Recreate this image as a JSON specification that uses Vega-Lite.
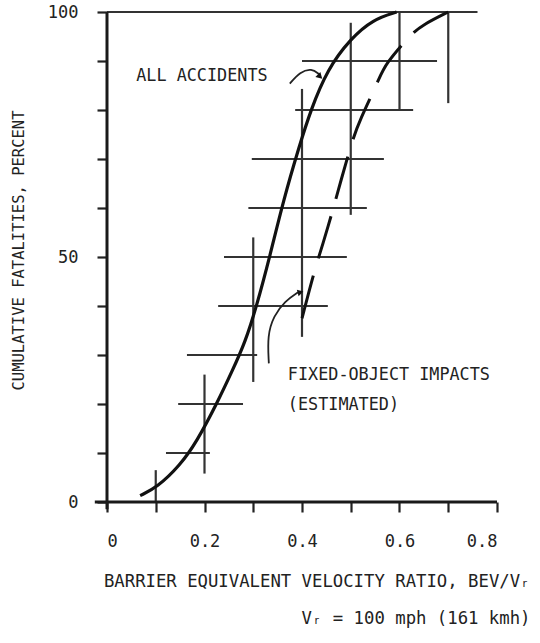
{
  "$schema": "https://vega.github.io/schema/vega-lite/v6.json",
  "autosize": {"type": "none"},
  "padding": {"left": 107, "top": 12, "right": 43, "bottom": 141},
  "width": 390,
  "height": 490,
  "background": "white",
  "config": {
    "font": "DejaVu Sans Mono",
    "view": {"stroke": null},
    "axis": {"grid": false, "domain": false, "tickColor": "#222", "tickWidth": 2.2, "labelColor": "#222", "titleColor": "#222", "labelFont": "DejaVu Sans Mono", "titleFont": "DejaVu Sans Mono", "titleFontWeight": "normal"}
  },
  "datasets": {
    "segs": [
      {"x": 0.121, "x2": 0.211, "y": 10, "y2": 10},
      {"x": 0.146, "x2": 0.279, "y": 20, "y2": 20},
      {"x": 0.164, "x2": 0.308, "y": 30, "y2": 30},
      {"x": 0.228, "x2": 0.453, "y": 40, "y2": 40},
      {"x": 0.24, "x2": 0.492, "y": 50, "y2": 50},
      {"x": 0.29, "x2": 0.533, "y": 60, "y2": 60},
      {"x": 0.297, "x2": 0.568, "y": 70, "y2": 70},
      {"x": 0.386, "x2": 0.628, "y": 80, "y2": 80},
      {"x": 0.4, "x2": 0.677, "y": 90, "y2": 90},
      {"x": 0.0, "x2": 0.76, "y": 100, "y2": 100},
      {"x": 0.1, "x2": 0.1, "y": 0, "y2": 6.5},
      {"x": 0.2, "x2": 0.2, "y": 5.8, "y2": 26},
      {"x": 0.3, "x2": 0.3, "y": 24.5, "y2": 54},
      {"x": 0.4, "x2": 0.4, "y": 33.7, "y2": 84.3},
      {"x": 0.5, "x2": 0.5, "y": 58.6, "y2": 97.8},
      {"x": 0.6, "x2": 0.6, "y": 80, "y2": 100},
      {"x": 0.7, "x2": 0.7, "y": 81.4, "y2": 100}
    ],
    "axes": [
      {"x": -0.025, "x2": 0.8, "y": 0, "y2": 0},
      {"x": 0, "x2": 0, "y": -1.5, "y2": 100}
    ],
    "all": [
      {"x": 0.068, "y": 1.3},
      {"x": 0.103, "y": 3.0},
      {"x": 0.15, "y": 7.5},
      {"x": 0.184, "y": 12.3},
      {"x": 0.225, "y": 20},
      {"x": 0.258, "y": 27},
      {"x": 0.283, "y": 32.5},
      {"x": 0.307, "y": 40},
      {"x": 0.334, "y": 50.1},
      {"x": 0.362, "y": 61.6},
      {"x": 0.394, "y": 72.5},
      {"x": 0.418, "y": 80},
      {"x": 0.452, "y": 88.3},
      {"x": 0.5, "y": 94.6},
      {"x": 0.546, "y": 98.5},
      {"x": 0.594, "y": 100}
    ],
    "fixed": [
      {"x": 0.4, "y": 37.5},
      {"x": 0.427, "y": 47.8},
      {"x": 0.441, "y": 52},
      {"x": 0.468, "y": 61.2},
      {"x": 0.478, "y": 65},
      {"x": 0.505, "y": 74.3},
      {"x": 0.517, "y": 77.6},
      {"x": 0.56, "y": 86.7},
      {"x": 0.57, "y": 89.2},
      {"x": 0.622, "y": 95.3},
      {"x": 0.646, "y": 97.3},
      {"x": 0.7, "y": 100}
    ],
    "arrows": [
      {"a": "all", "o": 1, "x": 0.375, "y": 85.4},
      {"a": "all", "o": 2, "x": 0.396, "y": 87.8},
      {"a": "all", "o": 3, "x": 0.42, "y": 88.5},
      {"a": "all", "o": 4, "x": 0.435, "y": 87.3},
      {"a": "fixed", "o": 1, "x": 0.332, "y": 28.3},
      {"a": "fixed", "o": 2, "x": 0.329, "y": 34},
      {"a": "fixed", "o": 3, "x": 0.342, "y": 38},
      {"a": "fixed", "o": 4, "x": 0.365, "y": 41},
      {"a": "fixed", "o": 5, "x": 0.392, "y": 42.8}
    ],
    "heads": [
      {"a": "all", "x": 0.437, "y": 86.8},
      {"a": "fixed", "x": 0.397, "y": 42.8}
    ],
    "labels": [
      {"x": 0.06, "y": 86.9, "t": "ALL ACCIDENTS"},
      {"x": 0.371, "y": 25.9, "t": "FIXED-OBJECT IMPACTS"},
      {"x": 0.371, "y": 19.7, "t": "(ESTIMATED)"}
    ]
  },
  "layer": [
    {
      "data": {"name": "segs"},
      "mark": {"type": "rule", "color": "#333", "strokeWidth": 2.2, "clip": false},
      "encoding": {
        "x": {"field": "x", "type": "quantitative", "scale": {"domain": [0, 0.8], "nice": false, "zero": false},
          "axis": {"values": [0, 0.1, 0.2, 0.3, 0.4, 0.5, 0.6, 0.7, 0.8], "tickSize": 10, "labelFontSize": 17, "labelPadding": 21,
            "labelExpr": "datum.value == 0 ? '0' : (round(datum.value*10) % 2 == 0 ? format(datum.value, '.1f') : '')",
            "title": ["BARRIER EQUIVALENT VELOCITY RATIO, BEV/Vᵣ", "Vᵣ = 100 mph (161 kmh)"],
            "titleFontSize": 17.3, "titleAlign": "right", "titleBaseline": "top", "titleX": 423, "titleY": 70, "titleLineHeight": 37}},
        "x2": {"field": "x2"},
        "y": {"field": "y", "type": "quantitative", "scale": {"domain": [0, 100], "nice": false},
          "axis": {"values": [0, 10, 20, 30, 40, 50, 60, 70, 80, 90, 100], "tickSize": 10, "labelFontSize": 17, "labelPadding": 19,
            "labelExpr": "datum.value % 50 == 0 ? datum.label : ''",
            "title": "CUMULATIVE FATALITIES, PERCENT", "titleFontSize": 15.5, "titleX": -89, "titleY": 238, "titleBaseline": "middle", "titleAlign": "center", "titleAngle": 270}},
        "y2": {"field": "y2"}
      }
    },
    {
      "data": {"name": "axes"},
      "mark": {"type": "rule", "color": "#1a1a1a", "strokeWidth": 3, "clip": false},
      "encoding": {
        "x": {"field": "x", "type": "quantitative"},
        "x2": {"field": "x2"},
        "y": {"field": "y", "type": "quantitative"},
        "y2": {"field": "y2"}
      }
    },
    {
      "data": {"name": "all"},
      "mark": {"type": "line", "interpolate": "basis", "color": "#111", "strokeWidth": 3.2},
      "encoding": {
        "x": {"field": "x", "type": "quantitative"},
        "y": {"field": "y", "type": "quantitative"}
      }
    },
    {
      "data": {"name": "fixed"},
      "mark": {"type": "line", "interpolate": "basis", "color": "#111", "strokeWidth": 3, "strokeDash": [44, 18]},
      "encoding": {
        "x": {"field": "x", "type": "quantitative"},
        "y": {"field": "y", "type": "quantitative"}
      }
    },
    {
      "data": {"name": "arrows"},
      "mark": {"type": "line", "interpolate": "basis", "color": "#222", "strokeWidth": 1.8},
      "encoding": {
        "x": {"field": "x", "type": "quantitative"},
        "y": {"field": "y", "type": "quantitative"},
        "detail": {"field": "a"},
        "order": {"field": "o"}
      }
    },
    {
      "data": {"name": "heads"},
      "transform": [{"filter": "datum.a == 'all'"}],
      "mark": {"type": "point", "shape": "triangle-up", "angle": 135, "filled": true, "color": "#111", "size": 50, "opacity": 1},
      "encoding": {
        "x": {"field": "x", "type": "quantitative"},
        "y": {"field": "y", "type": "quantitative"}
      }
    },
    {
      "data": {"name": "heads"},
      "transform": [{"filter": "datum.a == 'fixed'"}],
      "mark": {"type": "point", "shape": "triangle-right", "angle": -15, "filled": true, "color": "#111", "size": 45, "opacity": 1},
      "encoding": {
        "x": {"field": "x", "type": "quantitative"},
        "y": {"field": "y", "type": "quantitative"}
      }
    },
    {
      "data": {"name": "labels"},
      "mark": {"type": "text", "align": "left", "baseline": "middle", "fontSize": 16.8, "color": "#222", "font": "DejaVu Sans Mono"},
      "encoding": {
        "x": {"field": "x", "type": "quantitative"},
        "y": {"field": "y", "type": "quantitative"},
        "text": {"field": "t"}
      }
    }
  ]
}
